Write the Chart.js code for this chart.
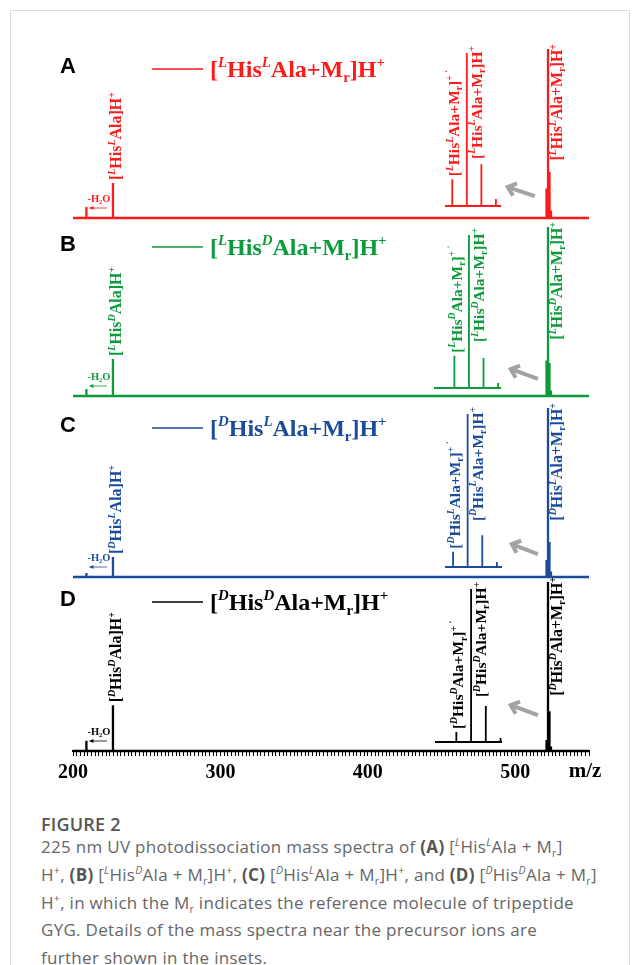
<!DOCTYPE html>
<html>
<head>
<meta charset="utf-8">
<script src="https://cdn.jsdelivr.net/npm/chart.js@4.4.1/dist/chart.umd.min.js"></script>
<style>
  html, body { margin: 0; padding: 0; background: #fff; }
  #stage { position: relative; width: 639px; height: 965px; overflow: hidden; }
  #frame { position: absolute; left: 10px; top: 10px; width: 618px; height: 1000px; border: 1px solid #dcdcdc; }
  #figno { position: absolute; left: 41px; top: 812px; font-family: "Open Sans", sans-serif; font-size: 18px; font-weight: 600; color: #555; letter-spacing: 0.2px; }
  #caption { position: absolute; left: 41px; top: 833px; width: 590px; font-family: "Open Sans", sans-serif; font-size: 17px; letter-spacing: 0.3px; line-height: 27.8px; color: #666; white-space: nowrap; }
  #caption b { color: #555; font-weight: 700; }
  #caption sup, #caption sub { font-size: 0.62em; line-height: 0; }
</style>
</head>
<body>
<div id="stage">
  <div id="frame"></div>
  <div id="figno">FIGURE 2</div>
  <div id="caption">
    225 nm UV photodissociation mass spectra of <b>(A)</b> [<sup><i>L</i></sup>His<sup><i>L</i></sup>Ala + M<sub>r</sub>]<br>
    H<sup>+</sup>, <b>(B)</b> [<sup><i>L</i></sup>His<sup><i>D</i></sup>Ala + M<sub>r</sub>]H<sup>+</sup>, <b>(C)</b> [<sup><i>D</i></sup>His<sup><i>L</i></sup>Ala + M<sub>r</sub>]H<sup>+</sup>, and <b>(D)</b> [<sup><i>D</i></sup>His<sup><i>D</i></sup>Ala + M<sub>r</sub>]<br>
    H<sup>+</sup>, in which the M<sub>r</sub> indicates the reference molecule of tripeptide<br>
    GYG. Details of the mass spectra near the precursor ions are<br>
    further shown in the insets.
  </div>
</div>
<script>
// m/z of the peaks
const fragMz = [209.1, 227.1];                   // -H2O loss, [HisAla]H+
const clusterMz = [521.2, 522.2, 523.2, 524.2];  // [M]+., [M+H]+ and isotopes

const panelIds = ['A', 'B', 'C', 'D'];
const hisCfg = ['L', 'L', 'D', 'D'];
const alaCfg = ['L', 'D', 'L', 'D'];

// relative intensities (precursor = 100)
const fragA = [6.5, 20.7];
const fragB = [4.1, 21.9];
const fragC = [2.4, 11.8];
const fragD = [6.0, 27.0];
const clusterA = [17.5, 100, 27.3, 4.5];
const clusterB = [21.0, 100, 19.6, 3.3];
const clusterC = [10.0, 100, 20.7, 3.3];
const clusterD = [6.5, 100, 23.5, 2.6];

const xTickLabels = [200, 300, 400, 500];
const xMin = 200, xMax = 550;

const fragData = [fragA, fragB, fragC, fragD];
const clusterData = [clusterA, clusterB, clusterC, clusterD];

// layout / style
const colors = ['#ff1a1a', '#0c9b3b', '#1b4b9b', '#000000'];
const baselines = [218, 396, 577, 751];
const insetBox = [[445, 501, 12], [434, 501, 8], [445, 502, 10], [435, 502, 9]]; // left, right, lift
const insetRange = [[520.7, 524.55], [519.8, 524.4], [520.65, 524.55], [519.75, 524.3]];
const grayArrows = [[513.2, 13.0, 494.9, 18.3], [515.3, 10.1, 496.9, 16.0], [515.3, 13.6, 497.6, 19.5], [515.3, 21.3, 496.9, 27.2]];
const TOP = 30, PEAK_PX = 169, INSET_PX = 153;
const SERIF = '"Liberation Serif", "Times New Roman", serif';

function sticks(mz, vals, lo, hi) {
  const pts = [{x: lo, y: 0}];
  mz.forEach((m, i) => { pts.push({x: m, y: 0}, {x: m, y: vals[i]}, {x: m, y: 0}); });
  pts.push({x: hi, y: 0});
  return pts;
}

// rich text: [text, kind]
function dip(h, a) { return [['[', ''], [h, 'supI'], ['His', ''], [a, 'supI'], ['Ala', '']]; }
function fragLabel(h, a) { return dip(h, a).concat([[']H', ''], ['+', 'sup']]); }
function precLabel(h, a) { return dip(h, a).concat([['+M', ''], ['r', 'sub'], [']H', ''], ['+', 'sup']]); }
function radLabel(h, a) { return dip(h, a).concat([['+M', ''], ['r', 'sub'], [']', ''], ['+ \u02D9', 'sup']]); }

function segFont(kind, size) {
  if (kind === 'sup' || kind === 'supI') return {s: size * 0.62, dy: -size * 0.42, it: kind === 'supI'};
  if (kind === 'sub') return {s: size * 0.62, dy: size * 0.2, it: false};
  return {s: size, dy: 0, it: false};
}
function drawRich(ctx, segs, x, y, size, measureOnly) {
  let cx = x;
  segs.forEach(([t, k]) => {
    const f = segFont(k, size);
    ctx.font = (f.it ? 'italic ' : '') + 'bold ' + f.s + 'px ' + SERIF;
    if (!measureOnly) ctx.fillText(t, cx, y + f.dy);
    cx += ctx.measureText(t).width;
  });
  return cx - x;
}
// vertical label, reading upwards, glyph body centred on cx
function vLabel(ctx, segs, cx, y, size, color, fromTop) {
  ctx.save();
  ctx.fillStyle = color;
  ctx.textAlign = 'left';
  ctx.textBaseline = 'alphabetic';
  const w = drawRich(ctx, segs, 0, 0, size, true);
  ctx.translate(cx + size * 0.33, fromTop ? y + w : y);
  ctx.rotate(-Math.PI / 2);
  drawRich(ctx, segs, 0, 0, size);
  ctx.restore();
}

const panelDeco = {
  id: 'panelDeco',
  afterDatasetsDraw(chart, args, o) {
    const i = o.idx, ctx = chart.ctx, xs = chart.scales.x, ys = chart.scales.y;
    const col = colors[i];
    const base = ys.getPixelForValue(0);
    const ly = base - 149;
    ctx.save();
    // panel letter
    ctx.fillStyle = '#000';
    ctx.font = 'bold 22px "Liberation Sans", Arial, sans-serif';
    ctx.textAlign = 'center';
    ctx.textBaseline = 'middle';
    ctx.fillText(panelIds[i], 68, ly - 2);
    // legend
    ctx.strokeStyle = col;
    ctx.lineWidth = 1.3;
    ctx.beginPath(); ctx.moveTo(152, ly); ctx.lineTo(203, ly); ctx.stroke();
    ctx.fillStyle = col;
    ctx.textAlign = 'left';
    ctx.textBaseline = 'alphabetic';
    drawRich(ctx, precLabel(hisCfg[i], alaCfg[i]), 210, ly + 8, 24);
    // peak labels
    const fx = xs.getPixelForValue(fragMz[1]);
    vLabel(ctx, fragLabel(hisCfg[i], alaCfg[i]), fx + 3, ys.getPixelForValue(fragData[i][1]) - 3, 16, col, false);
    const px = xs.getPixelForValue(clusterMz[1]);
    vLabel(ctx, precLabel(hisCfg[i], alaCfg[i]), px + 9, ys.getPixelForValue(100) - 5, 16, col, true);
    // -H2O loss
    const hx = xs.getPixelForValue(fragMz[0]);
    drawRich(ctx, [['-H', ''], ['2', 'sub'], ['O', '']], hx + 1, base - 16, 10.5);
    ctx.strokeStyle = col;
    ctx.lineWidth = 0.8;
    ctx.beginPath(); ctx.moveTo(fx - 6, base - 10); ctx.lineTo(hx + 3, base - 10); ctx.stroke();
    ctx.beginPath(); ctx.moveTo(hx + 3, base - 10); ctx.lineTo(hx + 7, base - 12); ctx.lineTo(hx + 7, base - 8); ctx.closePath(); ctx.fill();
    // grey arrow pointing at the inset
    const a = grayArrows[i];
    const x1 = xs.getPixelForValue(a[0]), y1 = ys.getPixelForValue(a[1]);
    const x2 = xs.getPixelForValue(a[2]), y2 = ys.getPixelForValue(a[3]);
    const ang = Math.atan2(y2 - y1, x2 - x1);
    ctx.strokeStyle = '#a3a3a3';
    ctx.lineWidth = 4;
    ctx.lineCap = 'butt';
    ctx.beginPath(); ctx.moveTo(x1, y1); ctx.lineTo(x2, y2); ctx.stroke();
    ctx.beginPath();
    ctx.moveTo(x2 - 10 * Math.cos(ang - 0.7), y2 - 10 * Math.sin(ang - 0.7));
    ctx.lineTo(x2, y2);
    ctx.lineTo(x2 - 10 * Math.cos(ang + 0.7), y2 - 10 * Math.sin(ang + 0.7));
    ctx.stroke();
    // m/z axis title
    if (i === 3) {
      ctx.fillStyle = '#000';
      ctx.font = 'bold 21px ' + SERIF;
      ctx.textAlign = 'center';
      ctx.textBaseline = 'middle';
      ctx.fillText('m/z', xs.right - 4, base + 21);
    }
    ctx.restore();
  }
};

const insetDeco = {
  id: 'insetDeco',
  afterDatasetsDraw(chart, args, o) {
    const i = o.idx, ctx = chart.ctx, xs = chart.scales.x, ys = chart.scales.y;
    const c = clusterData[i];
    vLabel(ctx, radLabel(hisCfg[i], alaCfg[i]), xs.getPixelForValue(clusterMz[0]) + 2, ys.getPixelForValue(c[0]) - 3, 15.5, colors[i], false);
    vLabel(ctx, precLabel(hisCfg[i], alaCfg[i]), xs.getPixelForValue(clusterMz[1]) + 10, ys.getPixelForValue(100) - 7, 15.5, colors[i], true);
  }
};

const stage = document.getElementById('stage');
function makeCanvas(top, h) {
  const c = document.createElement('canvas');
  c.width = 639; c.height = h;
  c.style.cssText = 'position:absolute;left:0;top:' + top + 'px;width:639px;height:' + h + 'px;';
  stage.appendChild(c);
  return c;
}

panelIds.forEach((id, i) => {
  const last = i === 3;
  const bottomPad = 10;
  const axisH = last ? 40 : 0;
  const canvasTop = baselines[i] - PEAK_PX - TOP;
  const canvasH = TOP + PEAK_PX + axisH + bottomPad;

  // main spectrum
  new Chart(makeCanvas(canvasTop, canvasH), {
    type: 'line',
    data: {
      datasets: [{
        label: id,
        data: sticks(fragMz.concat(clusterMz), fragData[i].concat(clusterData[i]), xMin, xMax),
        borderColor: colors[i],
        borderWidth: 2.3,
        borderJoinStyle: 'bevel',
        pointRadius: 0,
        tension: 0,
        clip: false
      }]
    },
    options: {
      responsive: false,
      animation: false,
      layout: { padding: { left: 73, right: 50, top: TOP, bottom: bottomPad } },
      plugins: { legend: { display: false }, tooltip: { enabled: false }, panelDeco: { idx: i } },
      scales: {
        x: {
          type: 'linear', min: xMin, max: xMax, display: last,
          border: { display: true, color: '#000', width: 2 },
          grid: { drawOnChartArea: false, drawTicks: true, tickLength: 5, tickColor: '#000', tickWidth: 1 },
          ticks: {
            stepSize: 2.5, autoSkip: false, maxRotation: 0, padding: 5, color: '#000',
            font: { family: SERIF, weight: 'bold', size: 20 },
            callback: v => xTickLabels.includes(v) ? String(v) : ''
          },
          afterFit: s => { s.height = axisH; }
        },
        y: { min: 0, max: 100, display: false }
      }
    },
    plugins: [panelDeco]
  });

  // inset near the precursor
  const box = insetBox[i];
  new Chart(makeCanvas(canvasTop, canvasH), {
    type: 'line',
    data: {
      datasets: [{
        label: id + ' inset',
        data: sticks(clusterMz, clusterData[i], insetRange[i][0], insetRange[i][1]),
        borderColor: colors[i],
        borderWidth: 1.8,
        borderJoinStyle: 'bevel',
        pointRadius: 0,
        tension: 0,
        clip: false
      }]
    },
    options: {
      responsive: false,
      animation: false,
      layout: { padding: { left: box[0], right: 639 - box[1], top: TOP + PEAK_PX - box[2] - INSET_PX, bottom: axisH + bottomPad + box[2] } },
      plugins: { legend: { display: false }, tooltip: { enabled: false }, insetDeco: { idx: i } },
      scales: {
        x: { type: 'linear', min: insetRange[i][0], max: insetRange[i][1], display: false },
        y: { min: 0, max: 100, display: false }
      }
    },
    plugins: [insetDeco]
  });
});
</script>
</body>
</html>
